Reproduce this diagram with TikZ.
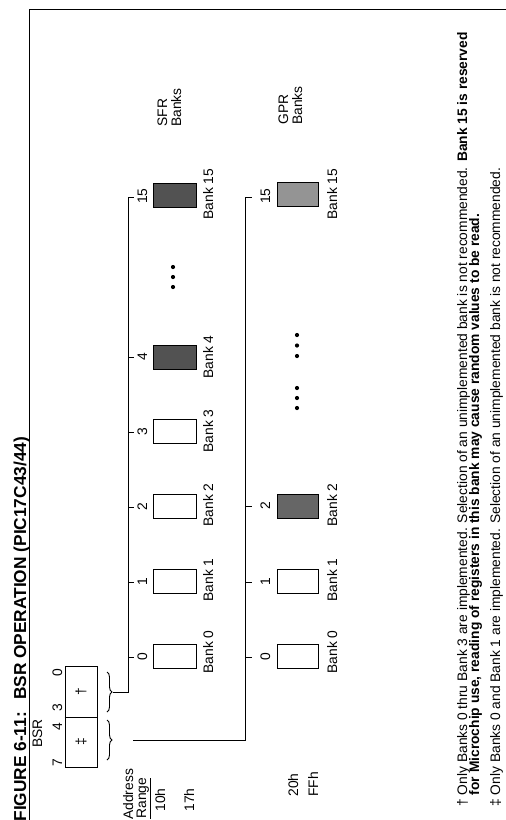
\documentclass[tikz,border=0pt]{standalone}
\usepackage{fontspec}
\setmainfont{Liberation Sans}
\usetikzlibrary{decorations.pathreplacing}
\begin{document}
\begin{tikzpicture}[x=1pt,y=-1pt,
  line width=0.9pt,
  txt/.style={rotate=90, inner sep=0pt, font=\fontsize{13.8}{15}\selectfont},
  ttl/.style={rotate=90, inner sep=0pt, font=\fontsize{17.3}{20}\bfseries\selectfont},
  sfrbox/.style={draw, minimum width=43pt, minimum height=24pt, inner sep=0pt},
  gprbox/.style={draw, minimum width=41pt, minimum height=24pt, inner sep=0pt},
  brc/.style={decorate, decoration={brace, amplitude=5pt}},
  dotc/.style={fill=black, circle, inner sep=0pt, minimum size=4.2pt}]
\path[use as bounding box] (0,0) rectangle (506,820);

% frame
\draw (29.5,820) -- (29.5,9) -- (506,9);

% title
\node[ttl, anchor=base west] (title) at (26,822) {FIGURE 6-11:\hspace{12pt}BSR OPERATION (PIC17C43/44)};

% BSR register
\node[txt, anchor=base west] (bsr) at (42,748) {BSR};
\node[draw, minimum width=32pt, minimum height=101pt, inner sep=0pt] (reg) at (81,716.5) {};
\draw (reg.west |- 0,717) -- (reg.east |- 0,717);
\node[txt, anchor=base] (b7) at (62,763) {7};
\node[txt, anchor=base] (b4) at (62,727) {4};
\node[txt, anchor=base] (b3) at (62,708) {3};
\node[txt, anchor=base] (b0) at (62,673) {0};
\node[txt] (ddag) at (81,742) {‡};
\node[txt] (dag) at (81,692) {†};

% braces
\draw[brc] (107,720) -- (107,760);
\draw[brc] (107,672) -- (107,712);
\coordinate (tipA) at (113,692);
\coordinate (tipB) at (133,740);

% SFR bus
\coordinate (sfrCorner) at (128,197);
\coordinate (sfrTick) at (134,197);
\draw (tipA) -| (sfrCorner) -- (sfrTick);
\foreach \y in {657,582,507,432,357} \draw (128,\y) -- (134,\y);
\node[txt, anchor=base] (sn0) at (147,657) {0};
\node[txt, anchor=base] (sn1) at (147,582) {1};
\node[txt, anchor=base] (sn2) at (147,507) {2};
\node[txt, anchor=base] (sn3) at (147,432) {3};
\node[txt, anchor=base] (sn4) at (147,357) {4};
\node[txt, anchor=base] (sn15) at (147,196) {15};

\node[sfrbox] (s0) at (174.5,656) {};
\node[sfrbox] (s1) at (174.5,581) {};
\node[sfrbox] (s2) at (174.5,506) {};
\node[sfrbox] (s3) at (174.5,431) {};
\node[sfrbox, fill=black!68] (s4) at (174.5,357) {};
\node[sfrbox, fill=black!68] (s15) at (174.5,195) {};

\node[txt, anchor=base] (sl0) at (213,652) {Bank 0};
\node[txt, anchor=base] (sl1) at (213,580) {Bank 1};
\node[txt, anchor=base] (sl2) at (213,505) {Bank 2};
\node[txt, anchor=base] (sl3) at (213,431) {Bank 3};
\node[txt, anchor=base] (sl4) at (213,357) {Bank 4};
\node[txt, anchor=base] (sl15) at (213,194) {Bank 15};

\node[dotc] (sd1) at (173,267) {};
\node[dotc] (sd2) at (173,277) {};
\node[dotc] (sd3) at (173,287) {};

\node[txt, anchor=base west] (sfrt) at (167,127) {SFR};
\node[txt, anchor=base west] (sfrb) at (181,127) {Banks};

% GPR bus
\coordinate (gprCorner) at (245,197);
\coordinate (gprTick) at (252,197);
\draw (tipB) -| (gprCorner) -- (gprTick);
\foreach \y in {657,582,506} \draw (245,\y) -- (252,\y);
\node[txt, anchor=base] (gn0) at (270,657) {0};
\node[txt, anchor=base] (gn1) at (270,582) {1};
\node[txt, anchor=base] (gn2) at (270,506) {2};
\node[txt, anchor=base] (gn15) at (270,196) {15};

\node[gprbox] (g0) at (298,656) {};
\node[gprbox] (g1) at (298,581) {};
\node[gprbox, fill=black!60] (g2) at (298,506) {};
\node[gprbox, fill=black!42] (g15) at (298,194) {};

\node[txt, anchor=base] (gl0) at (337,652) {Bank 0};
\node[txt, anchor=base] (gl1) at (337,580) {Bank 1};
\node[txt, anchor=base] (gl2) at (337,505) {Bank 2};
\node[txt, anchor=base] (gl15) at (337,194) {Bank 15};

\node[dotc] (gd1) at (297,335) {};
\node[dotc] (gd2) at (297,345.5) {};
\node[dotc] (gd3) at (297,356) {};
\node[dotc] (gd4) at (297,388) {};
\node[dotc] (gd5) at (297,398) {};
\node[dotc] (gd6) at (297,408) {};

\node[txt, anchor=base west] (gprt) at (288,125) {GPR};
\node[txt, anchor=base west] (gprb) at (302,125) {Banks};

% address range
\node[txt, anchor=base west] (addr) at (133,820) {Address};
\node[txt, anchor=base west] (rng) at (146,819) {\underline{Range}};
\node[txt, anchor=base west] (a10) at (165,812) {10h};
\node[txt, anchor=base west] (a17) at (194,812) {17h};
\node[txt, anchor=base west] (a20) at (298,797) {20h};
\node[txt, anchor=base west] (aff) at (318,797) {FFh};

% footnotes
\node[txt, anchor=base west] (fn1) at (467,807) {† Only Banks 0 thru Bank 3 are implemented. Selection of an unimplemented bank is not recommended. \textbf{Bank 15 is reserved}};
\node[txt, anchor=base west] (fn2) at (479,807) {\phantom{† }\textbf{for Microchip use, reading of registers in this bank may cause random values to be read.}};
\node[txt, anchor=base west] (fn3) at (500,807) {‡ Only Banks 0 and Bank 1 are implemented. Selection of an unimplemented bank is not recommended.};
\end{tikzpicture}
\end{document}
